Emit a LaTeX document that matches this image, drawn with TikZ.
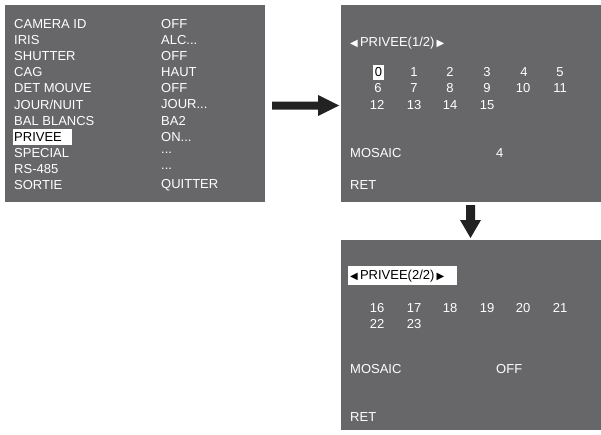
\documentclass[tikz,border=0pt]{standalone}
\usepackage{fontspec}
\setmainfont{Liberation Sans}
\newfontfamily\djvfont{DejaVu Sans}
\definecolor{panel}{HTML}{67676A}
\definecolor{arr}{HTML}{222222}
\newcommand\lt{{\djvfont\fontsize{10}{10}\selectfont ◀}}
\newcommand\rt{{\djvfont\fontsize{10}{10}\selectfont ▶}}
\begin{document}
\begin{tikzpicture}[x=1pt,y=-1pt,
  txt/.style={text=white,inner sep=0,font=\fontsize{13}{13}\selectfont},
  lt/.style={txt,anchor=west},
  num/.style={txt,anchor=center}]
\useasboundingbox (0,0) rectangle (601,434);
\fill[panel] (5,5) rectangle (265,202);
\fill[panel] (341,5) rectangle (601,202);
\fill[panel] (341,240) rectangle (601,430);
% left menu
\node[lt] (l0) at (14,24.0) {CAMERA ID};   \node[lt] (r0) at (161,24.0) {OFF};
\node[lt] (l1) at (14,40.1) {IRIS};        \node[lt] (r1) at (161,40.1) {ALC...};
\node[lt] (l2) at (14,56.2) {SHUTTER};     \node[lt] (r2) at (161,56.2) {OFF};
\node[lt] (l3) at (14,72.3) {CAG};         \node[lt] (r3) at (161,72.3) {HAUT};
\node[lt] (l4) at (14,88.4) {DET MOUVE};   \node[lt] (r4) at (161,88.4) {OFF};
\node[lt] (l5) at (14,104.5) {JOUR/NUIT};  \node[lt] (r5) at (161,104.5) {JOUR...};
\node[lt] (l6) at (14,120.6) {BAL BLANCS}; \node[lt] (r6) at (161,120.6) {BA2};
\fill[white] (13,129) rectangle (72,145);
\node[lt,text=black] (l7) at (14,136.7) {PRIVEE}; \node[lt] (r7) at (161,136.7) {ON...};
\node[lt] (l8) at (14,152.8) {SPECIAL};    \node[lt] (r8) at (161,152.8) {...};
\node[lt] (l9) at (14,168.9) {RS-485};     \node[lt] (r9) at (161,168.9) {...};
\node[lt] (l10) at (14,185.0) {SORTIE};    \node[lt] (r10) at (161,185.0) {QUITTER};
% arrows
\fill[arr] (272,101.5) -- (318,101.5) -- (318,95) -- (339,105.5) -- (318,116) -- (318,109.5) -- (272,109.5) -- cycle;
\fill[arr] (466,205) -- (475,205) -- (475,220) -- (481,220) -- (470.5,238) -- (460,220) -- (466,220) -- cycle;
% top right
\node[lt] (h1) at (350,43) {\lt\,PRIVEE(1/2)\,\rt};
\fill[white] (373,64.5) rectangle (384,80);
\foreach \n/\x/\y in {1/414/72,2/450/72,3/487/72,4/524/72,5/560/72,6/378/88,7/414/88,8/450/88,9/487/88,10/523/88,11/560/88,12/377/105,13/414/105,14/450/105,15/487/105}{
  \node[num] (n\n) at (\x,\y) {\n};
}
\node[num,text=black] (n0) at (378.5,72) {0};
\node[lt] (m1) at (350,153) {MOSAIC};
\node[lt] (v1) at (496,153) {4};
\node[lt] (ret1) at (350,185) {RET};
% bottom right
\fill[white] (348,266) rectangle (457,285);
\node[lt,text=black] (h2) at (350,276) {\lt\,PRIVEE(2/2)\,\rt};
\foreach \n/\x/\y in {16/377/308,17/414/308,18/450/308,19/487/308,20/523/308,21/560/308,22/377/324,23/414/324}{
  \node[num] (n\n) at (\x,\y) {\n};
}
\node[lt] (m2) at (350,369) {MOSAIC};
\node[lt] (v2) at (496,369) {OFF};
\node[lt] (ret2) at (350,417) {RET};
\end{tikzpicture}
\end{document}
